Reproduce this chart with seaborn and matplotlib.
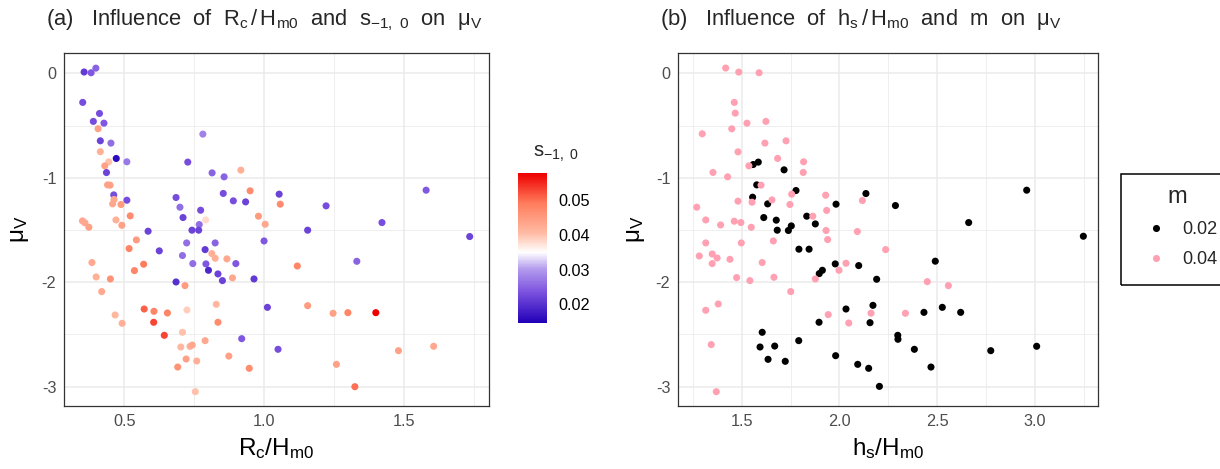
import numpy as np
import pandas as pd
import matplotlib
matplotlib.use("Agg")
import matplotlib.pyplot as plt
import seaborn as sns
from matplotlib.colors import LinearSegmentedColormap, Normalize
from matplotlib.patches import Rectangle

# ---- panel (a): Rc/Hm0 vs mu_V, coloured by s_-1,0
rc_hm0 = [0.356, 0.381, 0.398, 0.351, 0.411, 0.389, 0.427, 0.406, 0.414, 0.452,
          0.414, 0.471, 0.509, 0.444, 0.430, 0.436, 0.781, 0.727, 0.917, 0.814,
          0.857, 0.440, 0.449, 0.462, 0.509, 0.458, 0.463, 0.488, 0.950, 0.854,
          0.890, 0.934, 1.054, 1.058, 0.685, 0.699, 0.710, 0.773, 0.791, 0.768,
          0.742, 0.766, 0.521, 0.350, 0.359, 0.373, 0.470, 0.491, 0.585, 0.543,
          0.980, 1.004, 1.156, 1.000, 0.723, 0.825, 0.517, 0.625, 0.708, 0.789,
          0.813, 0.825, 0.867, 0.899, 0.745, 0.792, 0.801, 0.835, 0.851, 0.887,
          0.964, 1.119, 0.384, 0.399, 0.419, 0.450, 0.536, 0.569, 0.685, 0.717,
          0.571, 0.606, 0.654, 0.605, 0.724, 0.829, 0.835, 1.012, 1.156, 0.467,
          0.492, 0.643, 0.708, 0.702, 0.735, 0.743, 0.789, 0.920, 1.050, 0.874,
          0.721, 0.691, 0.759, 0.947, 0.754, 1.580, 1.222, 1.422, 1.736, 1.332,
          1.247, 1.300, 1.400, 1.481, 1.607, 1.259, 1.325]
mu_v_a = [0.013, 0.006, 0.050, -0.278, -0.384, -0.460, -0.477, -0.530, -0.646, -0.668,
          -0.750, -0.815, -0.847, -0.847, -0.886, -0.950, -0.582, -0.850, -0.927, -0.953,
          -0.991, -1.068, -1.071, -1.164, -1.215, -1.250, -1.208, -1.256, -1.125, -1.150,
          -1.221, -1.231, -1.157, -1.253, -1.189, -1.282, -1.381, -1.311, -1.404, -1.448,
          -1.502, -1.502, -1.365, -1.413, -1.432, -1.474, -1.404, -1.455, -1.512, -1.595,
          -1.368, -1.445, -1.502, -1.605, -1.624, -1.624, -1.678, -1.700, -1.745, -1.688,
          -1.726, -1.771, -1.777, -1.822, -1.822, -1.825, -1.886, -1.921, -1.985, -1.959,
          -1.969, -1.845, -1.812, -1.950, -2.090, -1.969, -1.889, -1.828, -1.998, -2.033,
          -2.257, -2.279, -2.295, -2.384, -2.266, -2.212, -2.384, -2.241, -2.225, -2.314,
          -2.394, -2.509, -2.480, -2.621, -2.615, -2.602, -2.560, -2.541, -2.643, -2.708,
          -2.736, -2.813, -2.755, -2.825, -3.049, -1.119, -1.269, -1.429, -1.563, -1.800,
          -2.298, -2.292, -2.292, -2.656, -2.614, -2.787, -3.001]
s_m10 = [0.021, 0.024, 0.025, 0.023, 0.023, 0.023, 0.024, 0.044, 0.022, 0.026,
         0.042, 0.016, 0.027, 0.040, 0.044, 0.022, 0.028, 0.023, 0.042, 0.025,
         0.025, 0.044, 0.044, 0.023, 0.023, 0.043, 0.043, 0.045, 0.047, 0.023,
         0.023, 0.022, 0.022, 0.047, 0.023, 0.026, 0.022, 0.023, 0.038, 0.026,
         0.022, 0.022, 0.047, 0.043, 0.043, 0.044, 0.042, 0.044, 0.022, 0.045,
         0.045, 0.043, 0.022, 0.024, 0.026, 0.025, 0.048, 0.022, 0.026, 0.021,
         0.042, 0.042, 0.043, 0.024, 0.026, 0.024, 0.019, 0.022, 0.022, 0.043,
         0.021, 0.048, 0.043, 0.042, 0.043, 0.046, 0.048, 0.049, 0.020, 0.045,
         0.051, 0.048, 0.048, 0.053, 0.039, 0.041, 0.047, 0.022, 0.045, 0.041,
         0.042, 0.053, 0.040, 0.041, 0.042, 0.043, 0.043, 0.024, 0.023, 0.044,
         0.044, 0.046, 0.042, 0.047, 0.040, 0.024, 0.023, 0.023, 0.022, 0.025,
         0.044, 0.048, 0.0578, 0.044, 0.043, 0.044, 0.050]

# ---- panel (b): hs/Hm0 vs mu_V, coloured by m
hs_m002 = [1.559, 1.585, 1.717, 1.577, 1.556, 1.778, 1.633, 1.983, 1.613, 1.677,
           1.833, 1.877, 1.682, 1.754, 1.739, 1.793, 1.845, 1.979, 1.913, 1.897,
           2.034, 1.896, 1.605, 1.594, 1.669, 1.792, 1.635, 1.723, 1.981, 2.136,
           2.287, 2.959, 2.662, 3.249, 2.099, 2.491, 2.191, 2.172, 2.157, 2.433,
           2.527, 2.621, 2.299, 2.300, 2.384, 2.775, 3.010, 2.094, 2.150, 2.469,
           2.205]
mu_m002 = [-0.873, -0.850, -0.924, -1.068, -1.186, -1.122, -1.250, -1.253, -1.381, -1.406,
           -1.368, -1.442, -1.502, -1.461, -1.505, -1.684, -1.684, -1.825, -1.886, -1.918,
           -2.257, -2.384, -2.480, -2.621, -2.612, -2.560, -2.739, -2.758, -2.704, -1.151,
           -1.266, -1.119, -1.429, -1.560, -1.841, -1.799, -1.972, -2.222, -2.388, -2.289,
           -2.241, -2.289, -2.509, -2.547, -2.643, -2.656, -2.614, -2.787, -2.825, -2.813,
           -2.998]
hs_m004 = [1.418, 1.485, 1.589, 1.462, 1.467, 1.527, 1.624, 1.449, 1.298, 1.619,
           1.727, 1.481, 1.684, 1.817, 1.537, 1.353, 1.815, 1.428, 1.599, 1.756,
           1.930, 1.655, 1.481, 1.553, 1.747, 1.270, 1.935, 1.864, 1.316, 1.392,
           1.462, 1.496, 1.549, 1.932, 1.316, 1.498, 1.662, 1.940, 1.283, 1.349,
           1.349, 1.374, 1.440, 1.605, 1.474, 1.542, 1.665, 1.877, 1.998, 2.034,
           1.751, 1.316, 1.380, 1.943, 2.048, 1.344, 1.370, 2.118, 2.092, 2.237,
           2.450, 2.558, 2.162, 2.338]
mu_m004 = [0.051, 0.012, 0.006, -0.278, -0.381, -0.477, -0.460, -0.531, -0.579, -0.668,
           -0.646, -0.752, -0.815, -0.847, -0.886, -0.949, -0.949, -0.991, -1.071, -1.157,
           -1.167, -1.212, -1.224, -1.234, -1.256, -1.282, -1.313, -1.368, -1.404, -1.452,
           -1.416, -1.429, -1.474, -1.505, -1.624, -1.624, -1.605, -1.592, -1.749, -1.730,
           -1.822, -1.768, -1.781, -1.812, -1.956, -1.985, -1.953, -1.969, -1.886, -1.819,
           -2.090, -2.269, -2.209, -2.311, -2.391, -2.598, -3.049, -1.218, -1.515, -1.688,
           -1.995, -2.033, -2.297, -2.298]
m_levels = ["0.02", "0.04"]
m_colors = ["black", "#FFA1B2"]

df_a = pd.DataFrame({"rc": rc_hm0, "mu": mu_v_a, "s": s_m10})
df_b = pd.DataFrame({
    "hs": hs_m002 + hs_m004,
    "mu": mu_m002 + mu_m004,
    "m": [m_levels[0]] * len(hs_m002) + [m_levels[1]] * len(hs_m004),
})

sns.set_theme(style="white")
plt.rcParams["font.family"] = ["Liberation Sans", "DejaVu Sans"]
plt.rcParams["mathtext.fontset"] = "custom"
plt.rcParams["mathtext.rm"] = "Liberation Sans"
plt.rcParams["mathtext.it"] = "Liberation Sans:italic"

W, H = 1220, 469
fig = plt.figure(figsize=(W / 100, H / 100), dpi=100)

def px_box(l, t, r, b):
    return [l / W, 1 - b / H, (r - l) / W, (b - t) / H]

cmap = LinearSegmentedColormap.from_list("gr2", [
    (0.0, "#2200B8"), (0.2, "#7A50DE"), (0.36, "#B49CEE"), (0.471, "#FFFFFF"),
    (0.6, "#FFBBA4"), (0.8, "#FF7C5C"), (1.0, "#EE0000")])
norm = Normalize(vmin=0.0147, vmax=0.0578)

def style_axes(ax):
    ax.set_facecolor("white")
    ax.grid(which="major", color="#EBEBEB", lw=1.1)
    ax.grid(which="minor", color="#EBEBEB", lw=0.6)
    ax.set_axisbelow(True)
    for sp in ax.spines.values():
        sp.set_visible(True)
        sp.set_color("#333333")
        sp.set_linewidth(0.9)
    ax.tick_params(which="major", direction="out", length=3.5, width=0.9,
                   color="#333333", labelcolor="#4D4D4D", labelsize=11.7, pad=2)
    ax.tick_params(which="minor", length=0)

# (a)
ax1 = fig.add_axes(px_box(64, 52.7, 488.7, 406))
sns.scatterplot(data=df_a, x="rc", y="mu", hue="s", palette=cmap, hue_norm=norm,
                s=26, linewidth=0, legend=False, ax=ax1)
ax1.set_xlim(0.284, 1.804)
ax1.set_ylim(-3.186, 0.198)
ax1.set_xticks([0.5, 1.0, 1.5])
ax1.set_xticks([0.75, 1.25, 1.75], minor=True)
ax1.set_yticks([0, -1, -2, -3])
ax1.set_yticks([-0.5, -1.5, -2.5], minor=True)
ax1.set_xticklabels(["0.5", "1.0", "1.5"])
ax1.set_yticklabels(["0", "-1", "-2", "-3"])
style_axes(ax1)
ax1.set_xlabel(r"R$_\mathregular{c}$/H$_\mathregular{m0}$", fontsize=17.5, color="black")
ax1.set_ylabel(r"μ$_\mathregular{V}$", fontsize=17.5, color="black")
ax1.xaxis.set_label_coords(0.5, -0.085)
ax1.yaxis.set_label_coords(-0.078, 0.5)

# colour bar
cax = fig.add_axes(px_box(517.7, 173.3, 547.3, 322.7))
sm = plt.cm.ScalarMappable(norm=norm, cmap=cmap)
cb = fig.colorbar(sm, cax=cax, ticks=[0.02, 0.03, 0.04, 0.05])
cb.outline.set_visible(False)
cax.set_yticklabels(["0.02", "0.03", "0.04", "0.05"])
cax.tick_params(left=True, right=True, labelleft=False, labelright=True,
                direction="in", length=4, width=0.8, color="white",
                labelsize=11.7, labelcolor="black", pad=8)
fig.text(533 / W, 1 - 154 / H, r"s$_\mathregular{-1,\ 0}$", fontsize=14.5,
         ha="left", va="center")

# (b)
ax2 = fig.add_axes(px_box(678, 52.7, 1098, 406))
sns.scatterplot(data=df_b, x="hs", y="mu", hue="m", hue_order=m_levels,
                palette=dict(zip(m_levels, m_colors)), s=26, linewidth=0, ax=ax2)
ax2.set_xlim(1.174, 3.324)
ax2.set_ylim(-3.186, 0.198)
ax2.set_xticks([1.5, 2.0, 2.5, 3.0])
ax2.set_xticks([1.25, 1.75, 2.25, 2.75, 3.25], minor=True)
ax2.set_yticks([0, -1, -2, -3])
ax2.set_yticks([-0.5, -1.5, -2.5], minor=True)
ax2.set_xticklabels(["1.5", "2.0", "2.5", "3.0"])
ax2.set_yticklabels(["0", "-1", "-2", "-3"])
style_axes(ax2)
ax2.set_xlabel(r"h$_\mathregular{s}$/H$_\mathregular{m0}$", fontsize=17.5, color="black")
ax2.set_ylabel(r"μ$_\mathregular{V}$", fontsize=17.5, color="black")
ax2.xaxis.set_label_coords(0.5, -0.085)
ax2.yaxis.set_label_coords(-0.074, 0.5)

sns.move_legend(ax2, "upper left", bbox_to_anchor=(1129 / W, 1 - 177 / H),
                bbox_transform=fig.transFigure, frameon=False, title="m",
                fontsize=13, title_fontsize=17, labelspacing=0.72,
                handlelength=2.0, handletextpad=0.45, borderpad=0)
fig.patches.append(Rectangle((1121 / W, 1 - 285 / H), 110 / W, 111 / H,
                             transform=fig.transFigure, fill=False,
                             edgecolor="black", lw=1.1))

# titles
fig.text(46 / W, 1 - 20 / H,
         r"(a)   Influence  of  $\mathregular{R_c\,/\,H_{m0}}$  and  "
         r"s$_\mathregular{-1,\ 0}$  on  μ$_\mathregular{V}$",
         fontsize=15.8, ha="left", va="center")
fig.text(660 / W, 1 - 20 / H,
         r"(b)   Influence  of  $\mathregular{h_s\,/\,H_{m0}}$  and  m  on  "
         r"μ$_\mathregular{V}$",
         fontsize=15.8, ha="left", va="center")

fig.savefig("out.png", dpi=100)
